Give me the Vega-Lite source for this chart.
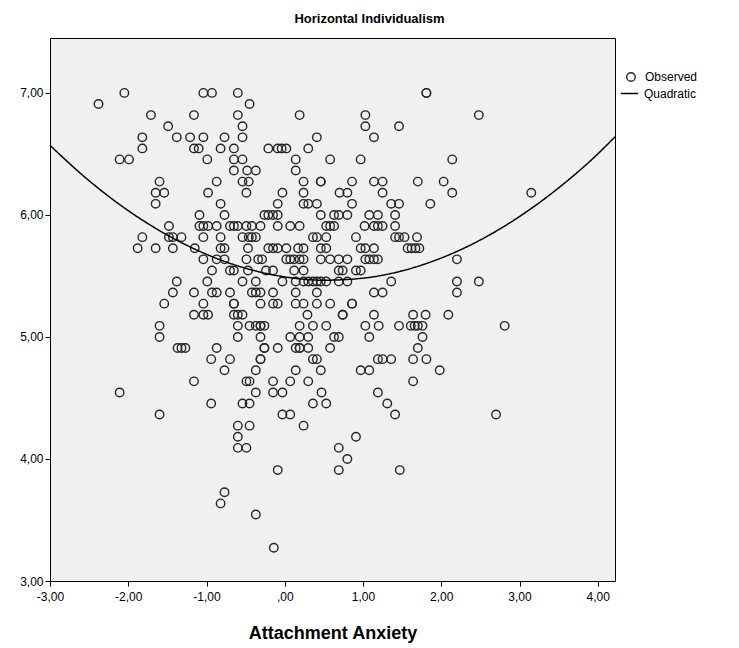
{
  "$schema": "https://vega.github.io/schema/vega-lite/v6.json",
  "autosize": "none",
  "padding": {"left": 50, "top": 38, "right": 124, "bottom": 67},
  "width": 565,
  "height": 543,
  "background": "#ffffff",
  "title": {
    "text": "Horizontal Individualism",
    "fontSize": 13,
    "fontWeight": "bold",
    "font": "Liberation Sans",
    "color": "#000000",
    "anchor": "middle",
    "dx": 37,
    "offset": 12
  },
  "config": {
    "view": {"fill": "#F0F0F0", "stroke": "#000000", "strokeWidth": 1},
    "font": "Liberation Sans",
    "axis": {
      "grid": false,
      "domain": false,
      "tickColor": "#000000",
      "tickSize": 5,
      "labelFontSize": 12,
      "labelColor": "#000000",
      "labelFlush": false,
      "titleColor": "#000000",
      "titleFontSize": 18,
      "titleFontWeight": "bold"
    },
    "legend": {"labelFontSize": 12, "labelColor": "#000000", "padding": 0, "labelFont": "Liberation Sans"}
  },
  "datasets": {
    "obs": [
      {"x": -2.05, "y": 7}, {"x": -1.04, "y": 7}, {"x": -0.93, "y": 7}, {"x": -0.6, "y": 7}, {"x": 1.81, "y": 7}, {"x": 1.81, "y": 7},
      {"x": -2.38, "y": 6.909}, {"x": -0.45, "y": 6.909},
      {"x": -1.71, "y": 6.818}, {"x": -1.16, "y": 6.818}, {"x": -0.6, "y": 6.818}, {"x": 0.19, "y": 6.818}, {"x": 1.03, "y": 6.818}, {"x": 2.48, "y": 6.818},
      {"x": -1.49, "y": 6.727}, {"x": -0.54, "y": 6.727}, {"x": 1.03, "y": 6.727}, {"x": 1.46, "y": 6.727},
      {"x": -1.82, "y": 6.636}, {"x": -1.38, "y": 6.636}, {"x": -1.21, "y": 6.636}, {"x": -1.04, "y": 6.636}, {"x": -0.77, "y": 6.636}, {"x": -0.54, "y": 6.636}, {"x": 0.41, "y": 6.636}, {"x": 1.14, "y": 6.636},
      {"x": -1.82, "y": 6.545}, {"x": -1.16, "y": 6.545}, {"x": -1.1, "y": 6.545}, {"x": -0.82, "y": 6.545}, {"x": -0.65, "y": 6.545}, {"x": -0.21, "y": 6.545}, {"x": -0.09, "y": 6.545}, {"x": -0.04, "y": 6.545}, {"x": 0.02, "y": 6.545}, {"x": 0.3, "y": 6.545},
      {"x": -2.11, "y": 6.455}, {"x": -1.99, "y": 6.455}, {"x": -0.99, "y": 6.455}, {"x": -0.65, "y": 6.455}, {"x": -0.54, "y": 6.455}, {"x": 0.14, "y": 6.455}, {"x": 0.58, "y": 6.455}, {"x": 0.97, "y": 6.455}, {"x": 2.14, "y": 6.455},
      {"x": -0.65, "y": 6.364}, {"x": -0.48, "y": 6.364}, {"x": -0.37, "y": 6.364}, {"x": 0.14, "y": 6.364},
      {"x": -1.6, "y": 6.273}, {"x": -0.87, "y": 6.273}, {"x": -0.54, "y": 6.273}, {"x": -0.46, "y": 6.273}, {"x": 0.24, "y": 6.273}, {"x": 0.46, "y": 6.273}, {"x": 0.46, "y": 6.273}, {"x": 0.86, "y": 6.273}, {"x": 1.14, "y": 6.273}, {"x": 1.25, "y": 6.273}, {"x": 1.7, "y": 6.273}, {"x": 2.03, "y": 6.273},
      {"x": -1.65, "y": 6.182}, {"x": -1.54, "y": 6.182}, {"x": -0.98, "y": 6.182}, {"x": -0.49, "y": 6.182}, {"x": -0.03, "y": 6.182}, {"x": 0.24, "y": 6.182}, {"x": 0.7, "y": 6.182}, {"x": 0.8, "y": 6.182}, {"x": 1.25, "y": 6.182}, {"x": 2.14, "y": 6.182}, {"x": 3.15, "y": 6.182},
      {"x": -1.65, "y": 6.091}, {"x": -0.82, "y": 6.091}, {"x": -0.09, "y": 6.091}, {"x": 0.24, "y": 6.091}, {"x": 0.3, "y": 6.091}, {"x": 0.41, "y": 6.091}, {"x": 0.86, "y": 6.091}, {"x": 1.36, "y": 6.091}, {"x": 1.46, "y": 6.091}, {"x": 1.86, "y": 6.091},
      {"x": -1.09, "y": 6}, {"x": -0.77, "y": 6}, {"x": -0.26, "y": 6}, {"x": -0.21, "y": 6}, {"x": -0.15, "y": 6}, {"x": -0.09, "y": 6}, {"x": 0.46, "y": 6}, {"x": 0.63, "y": 6}, {"x": 0.69, "y": 6}, {"x": 0.8, "y": 6}, {"x": 1.08, "y": 6}, {"x": 1.19, "y": 6}, {"x": 1.41, "y": 6},
      {"x": -1.48, "y": 5.909}, {"x": -1.09, "y": 5.909}, {"x": -1.04, "y": 5.909}, {"x": -0.98, "y": 5.909}, {"x": -0.87, "y": 5.909}, {"x": -0.7, "y": 5.909}, {"x": -0.65, "y": 5.909}, {"x": -0.6, "y": 5.909}, {"x": -0.49, "y": 5.909}, {"x": -0.42, "y": 5.909}, {"x": -0.31, "y": 5.909}, {"x": -0.09, "y": 5.909}, {"x": 0.07, "y": 5.909}, {"x": 0.19, "y": 5.909}, {"x": 0.53, "y": 5.909}, {"x": 0.58, "y": 5.909}, {"x": 0.63, "y": 5.909}, {"x": 1.02, "y": 5.909}, {"x": 1.14, "y": 5.909}, {"x": 1.19, "y": 5.909}, {"x": 1.25, "y": 5.909}, {"x": 1.41, "y": 5.909},
      {"x": -1.82, "y": 5.818}, {"x": -1.48, "y": 5.818}, {"x": -1.43, "y": 5.818}, {"x": -1.32, "y": 5.818}, {"x": -1.04, "y": 5.818}, {"x": -0.82, "y": 5.818}, {"x": -0.54, "y": 5.818}, {"x": -0.46, "y": 5.818}, {"x": -0.42, "y": 5.818}, {"x": -0.37, "y": 5.818}, {"x": 0.36, "y": 5.818}, {"x": 0.41, "y": 5.818}, {"x": 0.53, "y": 5.818}, {"x": 0.91, "y": 5.818}, {"x": 1.41, "y": 5.818}, {"x": 1.46, "y": 5.818}, {"x": 1.53, "y": 5.818}, {"x": 1.69, "y": 5.818},
      {"x": -1.88, "y": 5.727}, {"x": -1.65, "y": 5.727}, {"x": -1.43, "y": 5.727}, {"x": -1.15, "y": 5.727}, {"x": -0.82, "y": 5.727}, {"x": -0.77, "y": 5.727}, {"x": -0.47, "y": 5.727}, {"x": -0.21, "y": 5.727}, {"x": -0.15, "y": 5.727}, {"x": -0.09, "y": 5.727}, {"x": 0.02, "y": 5.727}, {"x": 0.17, "y": 5.727}, {"x": 0.24, "y": 5.727}, {"x": 0.46, "y": 5.727}, {"x": 0.53, "y": 5.727}, {"x": 0.97, "y": 5.727}, {"x": 1.03, "y": 5.727}, {"x": 1.14, "y": 5.727}, {"x": 1.57, "y": 5.727}, {"x": 1.62, "y": 5.727}, {"x": 1.67, "y": 5.727}, {"x": 1.72, "y": 5.727},
      {"x": -1.04, "y": 5.636}, {"x": -0.87, "y": 5.636}, {"x": -0.77, "y": 5.636}, {"x": -0.49, "y": 5.636}, {"x": -0.34, "y": 5.636}, {"x": -0.29, "y": 5.636}, {"x": 0.02, "y": 5.636}, {"x": 0.07, "y": 5.636}, {"x": 0.12, "y": 5.636}, {"x": 0.19, "y": 5.636}, {"x": 0.24, "y": 5.636}, {"x": 0.46, "y": 5.636}, {"x": 0.58, "y": 5.636}, {"x": 0.69, "y": 5.636}, {"x": 0.8, "y": 5.636}, {"x": 1.03, "y": 5.636}, {"x": 1.08, "y": 5.636}, {"x": 1.14, "y": 5.636}, {"x": 1.19, "y": 5.636}, {"x": 2.2, "y": 5.636},
      {"x": -0.93, "y": 5.545}, {"x": -0.7, "y": 5.545}, {"x": -0.65, "y": 5.545}, {"x": -0.47, "y": 5.545}, {"x": -0.24, "y": 5.545}, {"x": -0.15, "y": 5.545}, {"x": 0.12, "y": 5.545}, {"x": 0.24, "y": 5.545}, {"x": 0.69, "y": 5.545}, {"x": 0.74, "y": 5.545}, {"x": 0.91, "y": 5.545}, {"x": 0.97, "y": 5.545},
      {"x": -1.38, "y": 5.455}, {"x": -0.99, "y": 5.455}, {"x": -0.54, "y": 5.455}, {"x": -0.37, "y": 5.455}, {"x": -0.03, "y": 5.455}, {"x": 0.14, "y": 5.455}, {"x": 0.24, "y": 5.455}, {"x": 0.3, "y": 5.455}, {"x": 0.36, "y": 5.455}, {"x": 0.41, "y": 5.455}, {"x": 0.46, "y": 5.455}, {"x": 0.53, "y": 5.455}, {"x": 0.69, "y": 5.455}, {"x": 0.8, "y": 5.455}, {"x": 1.36, "y": 5.455}, {"x": 2.2, "y": 5.455}, {"x": 2.48, "y": 5.455},
      {"x": -1.43, "y": 5.364}, {"x": -1.16, "y": 5.364}, {"x": -0.93, "y": 5.364}, {"x": -0.87, "y": 5.364}, {"x": -0.7, "y": 5.364}, {"x": -0.42, "y": 5.364}, {"x": -0.37, "y": 5.364}, {"x": -0.31, "y": 5.364}, {"x": -0.15, "y": 5.364}, {"x": 0.14, "y": 5.364}, {"x": 0.41, "y": 5.364}, {"x": 1.14, "y": 5.364}, {"x": 1.25, "y": 5.364}, {"x": 2.2, "y": 5.364},
      {"x": -1.54, "y": 5.273}, {"x": -1.04, "y": 5.273}, {"x": -0.65, "y": 5.273}, {"x": -0.65, "y": 5.273}, {"x": -0.31, "y": 5.273}, {"x": -0.15, "y": 5.273}, {"x": -0.09, "y": 5.273}, {"x": 0.14, "y": 5.273}, {"x": 0.24, "y": 5.273}, {"x": 0.41, "y": 5.273}, {"x": 0.58, "y": 5.273}, {"x": 0.86, "y": 5.273}, {"x": 0.86, "y": 5.273},
      {"x": -1.16, "y": 5.182}, {"x": -1.04, "y": 5.182}, {"x": -0.98, "y": 5.182}, {"x": -0.65, "y": 5.182}, {"x": -0.6, "y": 5.182}, {"x": -0.54, "y": 5.182}, {"x": 0.29, "y": 5.182}, {"x": 0.74, "y": 5.182}, {"x": 0.74, "y": 5.182}, {"x": 1.14, "y": 5.182}, {"x": 1.64, "y": 5.182}, {"x": 1.8, "y": 5.182}, {"x": 2.09, "y": 5.182},
      {"x": -1.6, "y": 5.091}, {"x": -0.6, "y": 5.091}, {"x": -0.45, "y": 5.091}, {"x": -0.37, "y": 5.091}, {"x": -0.31, "y": 5.091}, {"x": -0.31, "y": 5.091}, {"x": -0.26, "y": 5.091}, {"x": 0.19, "y": 5.091}, {"x": 0.36, "y": 5.091}, {"x": 0.53, "y": 5.091}, {"x": 1.03, "y": 5.091}, {"x": 1.2, "y": 5.091}, {"x": 1.46, "y": 5.091}, {"x": 1.61, "y": 5.091}, {"x": 1.66, "y": 5.091}, {"x": 1.7, "y": 5.091}, {"x": 1.76, "y": 5.091}, {"x": 2.81, "y": 5.091},
      {"x": -1.6, "y": 5}, {"x": -0.6, "y": 5}, {"x": -0.31, "y": 5}, {"x": 0.07, "y": 5}, {"x": 0.19, "y": 5}, {"x": 0.3, "y": 5}, {"x": 0.63, "y": 5}, {"x": 0.69, "y": 5}, {"x": 1.08, "y": 5}, {"x": 1.76, "y": 5},
      {"x": -1.37, "y": 4.909}, {"x": -1.32, "y": 4.909}, {"x": -1.27, "y": 4.909}, {"x": -0.87, "y": 4.909}, {"x": -0.26, "y": 4.909}, {"x": -0.26, "y": 4.909}, {"x": -0.09, "y": 4.909}, {"x": 0.14, "y": 4.909}, {"x": 0.19, "y": 4.909}, {"x": 0.19, "y": 4.909}, {"x": 0.3, "y": 4.909}, {"x": 0.58, "y": 4.909}, {"x": 1.7, "y": 4.909},
      {"x": -0.94, "y": 4.818}, {"x": -0.7, "y": 4.818}, {"x": -0.31, "y": 4.818}, {"x": -0.31, "y": 4.818}, {"x": 0.36, "y": 4.818}, {"x": 0.41, "y": 4.818}, {"x": 1.19, "y": 4.818}, {"x": 1.25, "y": 4.818}, {"x": 1.36, "y": 4.818}, {"x": 1.64, "y": 4.818}, {"x": 1.81, "y": 4.818},
      {"x": -0.77, "y": 4.727}, {"x": -0.37, "y": 4.727}, {"x": 0.14, "y": 4.727}, {"x": 0.46, "y": 4.727}, {"x": 0.97, "y": 4.727}, {"x": 1.08, "y": 4.727}, {"x": 1.98, "y": 4.727},
      {"x": -1.16, "y": 4.636}, {"x": -0.49, "y": 4.636}, {"x": -0.45, "y": 4.636}, {"x": -0.15, "y": 4.636}, {"x": 0.07, "y": 4.636}, {"x": 0.3, "y": 4.636}, {"x": 1.64, "y": 4.636},
      {"x": -2.11, "y": 4.545}, {"x": -0.37, "y": 4.545}, {"x": -0.15, "y": 4.545}, {"x": -0.03, "y": 4.545}, {"x": 0.47, "y": 4.545}, {"x": 1.19, "y": 4.545},
      {"x": -0.94, "y": 4.455}, {"x": -0.54, "y": 4.455}, {"x": -0.45, "y": 4.455}, {"x": 0.36, "y": 4.455}, {"x": 0.53, "y": 4.455}, {"x": 1.31, "y": 4.455},
      {"x": -1.6, "y": 4.364}, {"x": -0.03, "y": 4.364}, {"x": 0.07, "y": 4.364}, {"x": 1.41, "y": 4.364}, {"x": 2.7, "y": 4.364},
      {"x": -0.6, "y": 4.273}, {"x": -0.45, "y": 4.273}, {"x": 0.24, "y": 4.273},
      {"x": -0.6, "y": 4.182}, {"x": 0.91, "y": 4.182},
      {"x": -0.6, "y": 4.091}, {"x": -0.49, "y": 4.091}, {"x": 0.69, "y": 4.091},
      {"x": 0.8, "y": 4},
      {"x": -0.09, "y": 3.909}, {"x": 0.69, "y": 3.909}, {"x": 1.47, "y": 3.909},
      {"x": -0.77, "y": 3.727},
      {"x": -0.82, "y": 3.636},
      {"x": -0.37, "y": 3.545},
      {"x": -0.14, "y": 3.273}
    ],
    "fit": [
      {"x": -3, "y": 6.57}, {"x": -2.5, "y": 6.28}, {"x": -2, "y": 6.035}, {"x": -1.5, "y": 5.835},
      {"x": -1, "y": 5.677}, {"x": -0.5, "y": 5.563}, {"x": 0, "y": 5.492}, {"x": 0.5, "y": 5.465},
      {"x": 1, "y": 5.482}, {"x": 1.5, "y": 5.542}, {"x": 2, "y": 5.647}, {"x": 2.5, "y": 5.795},
      {"x": 3, "y": 5.987}, {"x": 3.5, "y": 6.222}, {"x": 4, "y": 6.5}, {"x": 4.22, "y": 6.64}
    ]
  },
  "encoding": {
    "x": {
      "field": "x",
      "type": "quantitative",
      "scale": {"domain": [-3, 4.22], "nice": false, "zero": false},
      "axis": {
        "title": "Attachment Anxiety",
        "values": [-3, -2, -1, 0, 1, 2, 3, 4],
        "labelExpr": "(datum.value < 0 ? '-' : '') + (datum.value == 0 ? '' : format(abs(datum.value), '.0f')) + ',00'",
        "labelPadding": 5,
        "titlePadding": 22
      }
    },
    "y": {
      "field": "y",
      "type": "quantitative",
      "scale": {"domain": [3, 7.45], "nice": false, "zero": false},
      "axis": {
        "title": null,
        "values": [3, 4, 5, 6, 7],
        "labelExpr": "format(datum.value, '.0f') + ',00'",
        "labelPadding": 2
      }
    }
  },
  "layer": [
    {
      "data": {"name": "obs"},
      "mark": {"type": "point", "filled": false, "size": 72, "strokeWidth": 1.4, "color": "#262626", "opacity": 1},
      "encoding": {
        "shape": {
          "datum": "Observed",
          "scale": {"range": ["circle"]},
          "legend": {
            "title": null,
            "orient": "none",
            "legendX": 575,
            "legendY": 33,
            "labelOffset": 8,
            "symbolStrokeColor": "#262626",
            "symbolFillColor": "transparent",
            "symbolSize": 72,
            "symbolStrokeWidth": 1.4
          }
        }
      }
    },
    {
      "data": {"name": "fit"},
      "mark": {"type": "line", "color": "#000000", "strokeWidth": 1.5, "interpolate": "monotone"},
      "encoding": {
        "strokeDash": {
          "datum": "Quadratic",
          "scale": {"range": [[1, 0]]},
          "legend": {
            "title": null,
            "orient": "none",
            "legendX": 570,
            "legendY": 46,
            "labelOffset": 5,
            "symbolType": "stroke",
            "symbolStrokeColor": "#000000",
            "symbolStrokeWidth": 1.5,
            "symbolSize": 300
          }
        }
      }
    }
  ]
}
